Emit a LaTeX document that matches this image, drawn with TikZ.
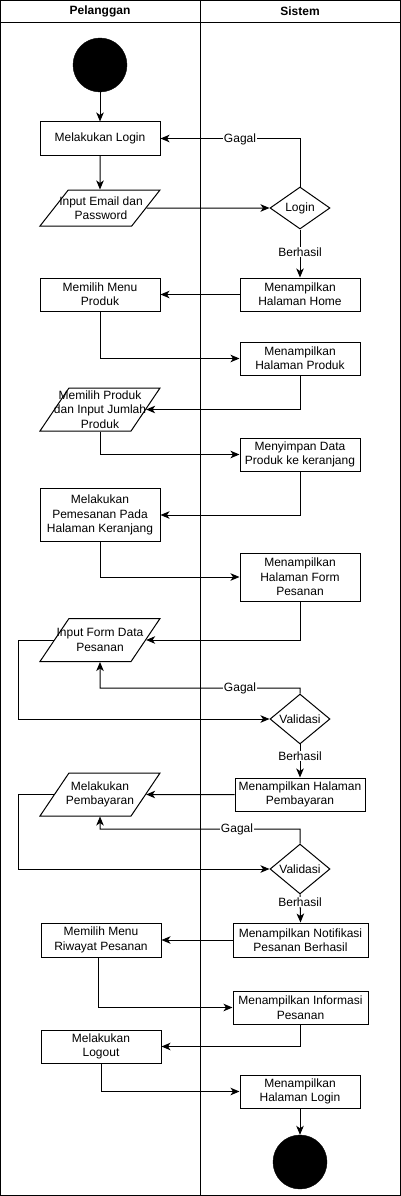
\documentclass[tikz,border=0pt]{standalone}
\usepackage{fontspec}
\setmainfont{Liberation Sans}
\usetikzlibrary{arrows.meta,shapes.geometric,calc}
\tikzset{
  txt/.style={font=\fontsize{12}{14.4}\selectfont, align=center},
  box/.style={txt, draw, line width=1pt, rectangle, inner sep=0pt, minimum width=120, minimum height=33},
  para/.style={draw, line width=1pt, trapezium, trapezium left angle=65, trapezium right angle=115,
     trapezium stretches=true, inner sep=0pt, minimum width=120, minimum height=43},
  dec/.style={txt, draw, line width=1pt, diamond, inner sep=0pt, minimum width=60, minimum height=42},
  dot/.style={circle, fill=black, draw=black, minimum size=54, inner sep=0pt},
  flow/.style={draw, line width=1pt, -{Stealth[length=9pt,width=7.5pt,inset=2.5pt]}},
  lbl/.style={txt, fill=white, inner sep=1pt},
  head/.style={font=\fontsize{12}{14.4}\selectfont\bfseries}
}
\newcommand{\pbody}{\phantom{\rule{2pt}{2pt}}}
\begin{document}
\begin{tikzpicture}[x=1pt,y=-1pt]
\useasboundingbox (0,0) rectangle (401,1196);
% swimlanes
\draw[line width=1pt] (0.5,0.5) rectangle (400.5,1195.5);
\draw[line width=1pt] (0.5,23) -- (400.5,23);
\draw[line width=1pt] (200.5,0.5) -- (200.5,1195.5);
\node[head] (hp) at (100,11.5) {Pelanggan};
\node[head] (hs) at (300,11.5) {Sistem};

% nodes
\node[dot] (start) at (100,65) {};
\node[box] (login) at (100,138.5) {Melakukan Login};
\node[para, minimum height=36, trapezium left angle=66, trapezium right angle=114] (p1) at (100,208) {\pbody};
\node[txt] (p1t) at (101,208) {Input Email dan\\Password};
\node[dec] (dlogin) at (300,208) {Login};
\node[box] (home) at (300,294.5) {Menampilkan\\Halaman Home};
\node[box] (menu) at (100,294.5) {Memilih Menu\\Produk};
\node[box] (produk) at (300,358.5) {Menampilkan\\Halaman Produk};
\node[para] (p2) at (100,409.5) {\pbody};
\node[txt] (p2t) at (100,409.5) {Memilih Produk\\dan Input Jumlah\\Produk};
\node[box] (simpan) at (300,454.5) {Menyimpan Data\\Produk ke keranjang};
\node[box, minimum height=53] (pesan) at (100,515) {Melakukan\\Pemesanan Pada\\Halaman Keranjang};
\node[box, minimum height=48] (form) at (300,577) {Menampilkan\\Halaman Form\\Pesanan};
\node[para] (p3) at (100,640) {\pbody};
\node[txt] (p3t) at (100,640) {Input Form Data\\Pesanan};
\node[dec] (v1) at (300,719) {Validasi};
\node[box, minimum width=130] (bayar) at (300,794.5) {Menampilkan Halaman\\Pembayaran};
\node[para] (p4) at (100,794.5) {\pbody};
\node[txt] (p4t) at (100,794.5) {Melakukan\\Pembayaran};
\node[dec] (v2) at (300,869) {Validasi};
\node[box, minimum width=135, minimum height=34] (notif) at (300.5,940) {Menampilkan Notifikasi\\Pesanan Berhasil};
\node[box, minimum height=34] (riwayat) at (101,940) {Memilih Menu\\Riwayat Pesanan};
\node[box, minimum width=135] (info) at (300.5,1007.5) {Menampilkan Informasi\\Pesanan};
\node[box] (logout) at (101,1046.5) {Melakukan\\Logout};
\node[box] (hlogin) at (300,1091.5) {Menampilkan\\Halaman Login};
\node[dot] (end) at (300,1162) {};

\coordinate (lx) at (18,0);
\coordinate (g1) at (100,688);
\coordinate (g2) at (100,829);

% connectors
\draw[flow] (start) -- (login);
\draw[flow] (login) -- (p1);
\draw[flow] (p1) -- (dlogin);
\draw[flow] (dlogin.north) |- (login);
\draw[flow] (dlogin.south) -- (home.north);
\draw[flow] (home) -- (menu);
\draw[flow] (menu.south) |- (produk);
\draw[flow] (produk.south) |- (p2);
\draw[flow] (p2.south) |- (simpan);
\draw[flow] (simpan.south) |- (pesan);
\draw[flow] (pesan.south) |- (form);
\draw[flow] (form.south) |- (p3);
\draw[flow] (p3.west) -- (p3.west -| lx) |- (v1);
\draw[flow] (v1.north) |- (g1) -- (p3.south);
\draw[flow] (v1.south) -- (bayar.north);
\draw[flow] (bayar) -- (p4);
\draw[flow] (p4.west) -- (p4.west -| lx) |- (v2);
\draw[flow] (v2.north) |- (g2) -- (p4.south);
\draw[flow] (v2.south) -- (notif.north);
\draw[flow] (notif) -- (riwayat);
\draw[flow] ([xshift=-3pt]riwayat.south) |- (info);
\draw[flow] (info.south) |- (logout);
\draw[flow] (logout.south) |- (hlogin);
\draw[flow] (hlogin) -- (end);

% labels
\node[lbl] (lg1) at (240,139) {Gagal};
\node[lbl] (lb1) at (300,252) {Berhasil};
\node[lbl] (lg2) at (240,688) {Gagal};
\node[lbl] (lb2) at (300,756) {Berhasil};
\node[lbl] (lg3) at (237,829) {Gagal};
\node[lbl] (lb3) at (300,902) {Berhasil};
\end{tikzpicture}
\end{document}
